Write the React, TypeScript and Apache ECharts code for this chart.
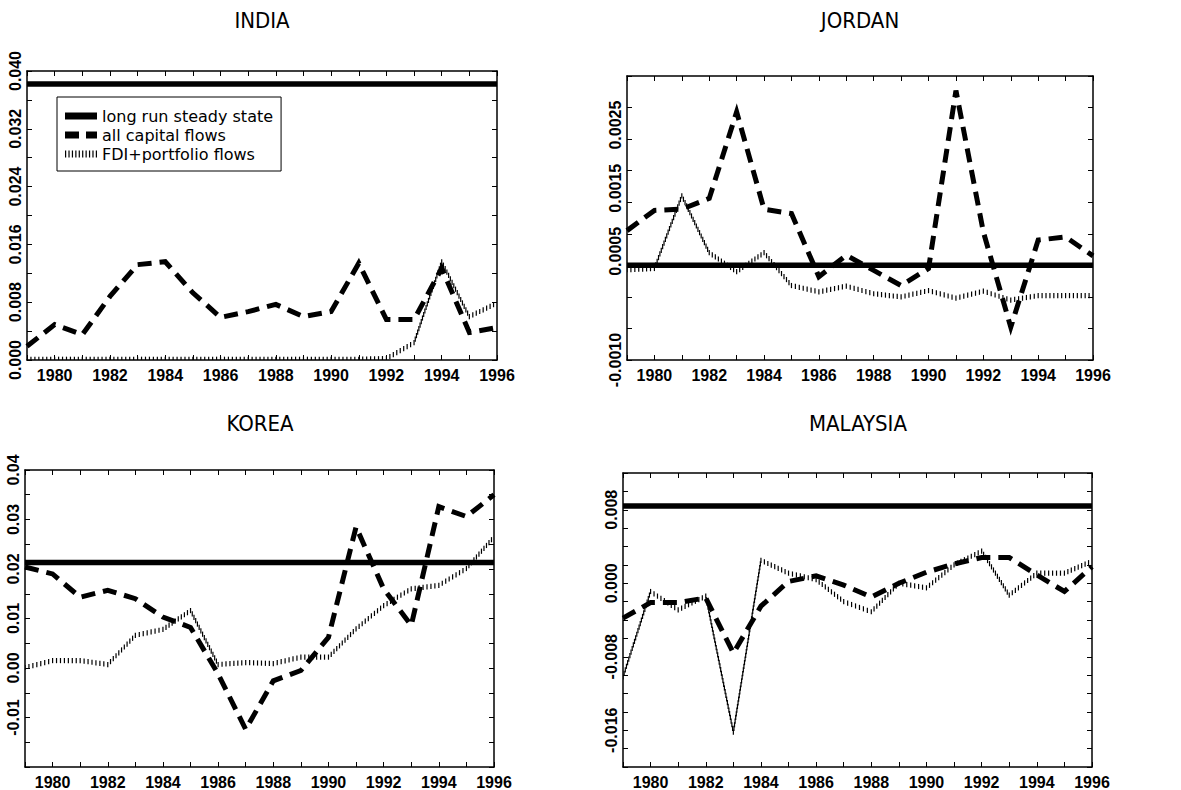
import React, { useEffect, useRef } from "react";
import * as echarts from "echarts";

// Years on the horizontal axis
const YEARS = [1979, 1980, 1981, 1982, 1983, 1984, 1985, 1986, 1987, 1988, 1989, 1990, 1991, 1992, 1993, 1994, 1995, 1996];

// INDIA
const INDIA_STEADY = 0.0382;
const INDIA_ALL = [0.0019, 0.0049, 0.0035, 0.0088, 0.0132, 0.0136, 0.0093, 0.0059, 0.0067, 0.0077, 0.006, 0.0067, 0.0134, 0.0056, 0.0056, 0.0127, 0.0038, 0.0045];
const INDIA_FDI = [0.0001, 0.0001, 0.0001, 0.0001, 0.0001, 0.0001, 0.0001, 0.0001, 0.0001, 0.0001, 0.0001, 0.0001, 0.0001, 0.0002, 0.0024, 0.0136, 0.006, 0.0079];

// JORDAN
const JORDAN_STEADY = 0.0005;
const JORDAN_ALL = [0.00105, 0.00137, 0.00139, 0.00156, 0.00293, 0.00139, 0.00132, 0.00032, 0.00066, 0.00042, 0.00018, 0.00045, 0.00327, 0.00103, -0.00048, 0.0009, 0.00095, 0.00065];
const JORDAN_FDI = [0.00043, 0.00045, 0.0016, 0.0007, 0.0004, 0.0007, 0.00018, 0.00008, 0.00017, 0.00005, 0.0, 0.0001, -0.00002, 0.00009, -0.00005, 0.00002, 0.00002, 0.00002];

// KOREA
const KOREA_STEADY = 0.0213;
const KOREA_ALL = [0.0204, 0.019, 0.0143, 0.0157, 0.014, 0.0103, 0.0082, -0.0012, -0.0124, -0.0026, -0.0005, 0.0062, 0.0285, 0.016, 0.0086, 0.0326, 0.0306, 0.035];
const KOREA_FDI = [0.0001, 0.0015, 0.0015, 0.0007, 0.0066, 0.0078, 0.0116, 0.0007, 0.0011, 0.0009, 0.0022, 0.0022, 0.0079, 0.0126, 0.016, 0.0167, 0.0201, 0.0265];

// MALAYSIA
const MALAYSIA_STEADY = 0.0084;
const MALAYSIA_ALL = [-0.0038, -0.0021, -0.0021, -0.0016, -0.0076, -0.0025, 0.0002, 0.0008, -0.0002, -0.0015, 0.0, 0.0012, 0.0021, 0.0028, 0.0028, 0.0009, -0.0009, 0.0018];
const MALAYSIA_FDI = [-0.0102, -0.0009, -0.0029, -0.0014, -0.0162, 0.0025, 0.0011, 0.0004, -0.002, -0.0031, 0.0, -0.0005, 0.002, 0.0035, -0.0013, 0.0011, 0.0011, 0.0024];

const SERIES_NAMES = ["long run steady state", "all capital flows", "FDI+portfolio flows"];

const FONT = "'Liberation Sans', 'DejaVu Sans', sans-serif";
const LEGEND_FONT = "'DejaVu Sans', 'Liberation Sans', sans-serif";
const TITLE_FONT = "'Liberation Sans Narrow', 'DejaVu Sans Condensed', 'Liberation Sans', sans-serif";

type Panel = {
  title: string;
  steady: number;
  all: number[];
  fdi: number[];
  yMin: number;
  yMax: number;
  yStep: number;
  yLabel: (v: number) => string;
  rich?: any;
  grid: { left: number; top: number; width: number; height: number };
  titlePos: [number, number];
};

const indiaLabel = (v: number) => {
  const k = Math.round(v * 1000);
  return k % 8 === 0 ? (k / 1000).toFixed(3) : "";
};
const jordanLabel = (v: number) => {
  const k = Math.round(v * 10000);
  if (k === -10) return "-0.0010";
  if (k > 0 && k < 30 && (k - 5) % 10 === 0) return "{s|" + (k / 10000).toFixed(4) + "}";
  return "";
};
const koreaLabel = (v: number) => {
  const k = Math.round(v * 1000);
  if (k % 10 === 0 && k > -20) return (k / 1000).toFixed(2);
  return "";
};
const malaysiaLabel = (v: number) => {
  const k = Math.round(v * 1000);
  if (k % 8 === 0 && k > -20 && k < 12) return (k / 1000).toFixed(3);
  return "";
};

const PANELS: Panel[] = [
  {
    title: "INDIA", steady: INDIA_STEADY, all: INDIA_ALL, fdi: INDIA_FDI,
    yMin: 0, yMax: 0.04, yStep: 0.004, yLabel: indiaLabel,
    grid: { left: 27, top: 71, width: 470, height: 289 }, titlePos: [262, 20],
  },
  {
    title: "JORDAN", steady: JORDAN_STEADY, all: JORDAN_ALL, fdi: JORDAN_FDI,
    yMin: -0.001, yMax: 0.0035, yStep: 0.0005, yLabel: jordanLabel,
    rich: { s: { padding: [0, 0, 0, 28], fontSize: 16, fontFamily: FONT, fontWeight: "bold", color: "#000" } },
    grid: { left: 627, top: 76, width: 466, height: 284 }, titlePos: [860, 20],
  },
  {
    title: "KOREA", steady: KOREA_STEADY, all: KOREA_ALL, fdi: KOREA_FDI,
    yMin: -0.02, yMax: 0.04, yStep: 0.005, yLabel: koreaLabel,
    grid: { left: 25, top: 470, width: 469, height: 297 }, titlePos: [260, 423],
  },
  {
    title: "MALAYSIA", steady: MALAYSIA_STEADY, all: MALAYSIA_ALL, fdi: MALAYSIA_FDI,
    yMin: -0.02, yMax: 0.012, yStep: 0.002, yLabel: malaysiaLabel,
    grid: { left: 623, top: 473, width: 469, height: 294 }, titlePos: [858, 423],
  },
];

const AXIS_LINE = { show: true, onZero: false, lineStyle: { color: "#000", width: 1.5 } };
const AXIS_TICK = { show: true, inside: true, length: 5, lineStyle: { color: "#000", width: 1 } };

// dotted line drawn as short vertical strokes spaced along the path
const hatchRender = (params: any, api: any) => {
  const p0 = api.coord([api.value(0), api.value(1)]);
  const p1 = api.coord([api.value(2), api.value(3)]);
  const dx = p1[0] - p0[0];
  const dy = p1[1] - p0[1];
  const len = Math.hypot(dx, dy);
  const step = 3.7;
  const n = Math.max(1, Math.floor(len / step));
  const children: any[] = [];
  for (let k = 0; k < n; k++) {
    const t = k / n;
    const x = p0[0] + dx * t;
    const y = p0[1] + dy * t;
    children.push({
      type: "line",
      shape: { x1: x, y1: y - 2.6, x2: x, y2: y + 2.6 },
      style: { stroke: "#000", lineWidth: 1.2 },
    });
  }
  return { type: "group", children };
};

const FDI_ICON = "path://" + Array.from({ length: 10 }, (_, i) => `M${i * 3.4},0h1.2v7h-1.2z`).join(" ");

function buildOption() {
  const grids: any[] = [];
  const xAxes: any[] = [];
  const yAxes: any[] = [];
  const series: any[] = [];
  const graphics: any[] = [];

  PANELS.forEach((p, i) => {
    grids.push({ ...p.grid, containLabel: false });
    const xBase = {
      type: "value", gridIndex: i, min: 1979, max: 1996, interval: 1,
      axisLine: AXIS_LINE, axisTick: AXIS_TICK, splitLine: { show: false },
    };
    xAxes.push({
      ...xBase, position: "bottom",
      axisLabel: {
        show: true, margin: 7, color: "#000", fontSize: 16, fontWeight: "bold", fontFamily: FONT,
        formatter: (v: number) => (v % 2 === 0 ? String(v) : ""),
      },
    });
    xAxes.push({ ...xBase, position: "top", axisLabel: { show: false } });
    const yBase = {
      type: "value", gridIndex: i, min: p.yMin, max: p.yMax, interval: p.yStep,
      axisLine: AXIS_LINE, axisTick: AXIS_TICK, splitLine: { show: false },
    };
    yAxes.push({
      ...yBase, position: "left",
      axisLabel: {
        show: true, rotate: 90, margin: 4, color: "#000", fontSize: 16, fontWeight: "bold", fontFamily: FONT,
        formatter: p.yLabel, rich: p.rich,
      },
    });
    yAxes.push({ ...yBase, position: "right", axisLabel: { show: false } });

    const xi = i * 2;
    const yi = i * 2;
    series.push({
      type: "line", name: SERIES_NAMES[0], xAxisIndex: xi, yAxisIndex: yi,
      data: [[YEARS[0], p.steady], [YEARS[YEARS.length - 1], p.steady]],
      symbol: "none", lineStyle: { color: "#000", width: 5.5 }, itemStyle: { color: "#000" }, z: 3,
    });
    series.push({
      type: "custom", name: SERIES_NAMES[2], xAxisIndex: xi, yAxisIndex: yi,
      data: p.fdi.slice(0, -1).map((v, k) => [YEARS[k], v, YEARS[k + 1], p.fdi[k + 1]]),
      encode: { x: [0, 2], y: [1, 3] },
      renderItem: hatchRender, clip: true, itemStyle: { color: "#000" }, z: 4,
    });
    series.push({
      type: "line", name: SERIES_NAMES[1], xAxisIndex: xi, yAxisIndex: yi,
      data: YEARS.map((y, k) => [y, p.all[k]]),
      symbol: "none",
      lineStyle: { color: "#000", width: 5, type: [14, 8], cap: "butt", join: "miter" },
      itemStyle: { color: "#000" }, z: 5,
    });

    graphics.push({
      type: "text", x: p.titlePos[0], y: p.titlePos[1],
      style: {
        text: p.title, fill: "#000", fontSize: 22, fontFamily: TITLE_FONT,
        textAlign: "center", textVerticalAlign: "middle",
      },
    });
  });

  return {
    animation: false,
    backgroundColor: "#fff",
    grid: grids,
    xAxis: xAxes,
    yAxis: yAxes,
    series,
    graphic: graphics,
    legend: {
      show: true, orient: "vertical", left: 57, top: 97,
      padding: [11, 8, 9, 8], itemGap: 3, itemWidth: 32, itemHeight: 7,
      symbolKeepAspect: false,
      borderColor: "#000", borderWidth: 1, backgroundColor: "#fff",
      textStyle: { color: "#000", fontSize: 16, fontFamily: LEGEND_FONT },
      itemStyle: { color: "#000", borderWidth: 0 },
      lineStyle: { width: 0 },
      data: [
        { name: SERIES_NAMES[0], icon: "path://M0,0h32v7h-32z" },
        { name: SERIES_NAMES[1], icon: "path://M0,0h14v7h-14z M21,0h11v7h-11z" },
        { name: SERIES_NAMES[2], icon: FDI_ICON },
      ],
      selectedMode: false,
    },
  };
}

export default function App() {
  const ref = useRef<HTMLDivElement>(null);
  useEffect(() => {
    if (!ref.current) return;
    const chart = echarts.init(ref.current, undefined, { renderer: "svg" });
    chart.setOption(buildOption() as any);
    return () => chart.dispose();
  }, []);
  return (
    <div
      ref={ref}
      style={{ position: "fixed", left: 0, top: 0, width: 1181, height: 790, background: "#fff" }}
    />
  );
}
